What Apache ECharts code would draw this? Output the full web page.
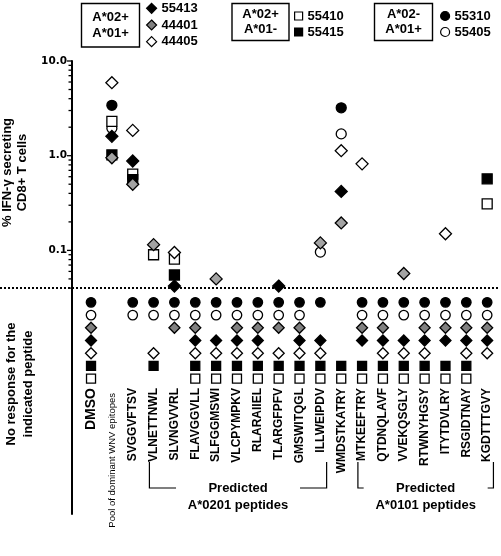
<!DOCTYPE html>
<html><head><meta charset="utf-8">
<script src="https://cdn.jsdelivr.net/npm/echarts@6/dist/echarts.min.js"></script>
<style>html,body{margin:0;padding:0;background:#fff}#c{width:501px;height:556px}</style>
</head><body><div id="c"></div>
<script>
// ---------------- DATA ----------------
const categories = ['DMSO', 'Pool of dominant WNV epitopes', 'SVGGVFTSV', 'VLNETTNWL', 'SLVNGVVRL',
  'FLAVGGVLL', 'SLFGGMSWI', 'VLCPYMPKV', 'RLARAIIEL', 'TLARGFPFV', 'GMSWITQGL', 'ILLWEIPDV',
  'WMDSTKATRY', 'MTKEEFTRY', 'QTDNQLAVF', 'VVEKQSGLY', 'RTWNYHGSY', 'ITYTDVLRY', 'RSGIDTNAY', 'KGDTTTGVY'];
const donors = ['55310', '55405', '44401', '55413', '44405', '55415', '55410'];
const tickValues = [0.1, 1, 10];
const minorTickValues = [0.04, 0.05, 0.06, 0.07, 0.08, 0.09, 0.2, 0.3, 0.4, 0.5, 0.6, 0.7, 0.8, 0.9, 2, 3, 4, 5, 6, 7, 8, 9];
const threshold = 0.04;

// % IFN-gamma secreting CD8+ T cells (null = no value plotted above the threshold)
const resp55413 = [null, 1.6, 0.88, null, 0.042, null, null, null, null, 0.042, null, null, 0.42, null, null, null, null, null, null, null];
const resp44401 = [null, 0.95, 0.50, 0.115, null, null, 0.05, null, null, null, null, 0.12, 0.195, null, null, 0.057, null, null, null, null];
const resp44405 = [null, 5.9, 1.85, null, 0.095, null, null, null, null, null, null, null, 1.13, 0.82, null, null, null, 0.15, null, null];
const resp55410 = [null, 2.3, 0.64, 0.09, 0.081, null, null, null, null, null, null, null, null, null, null, null, null, null, null, 0.31];
const resp55415 = [null, 1.02, 0.56, null, 0.055, null, null, null, null, null, null, null, null, null, null, null, null, null, null, 0.57];
const resp55310 = [null, 3.4, null, null, null, null, null, null, null, null, null, null, 3.2, null, null, null, null, null, null, null];
const resp55405 = [null, 1.95, null, null, null, null, null, null, null, null, null, 0.096, 1.7, null, null, null, null, null, null, null];

// peptides with no response, per donor
const none55310 = ['DMSO', 'SVGGVFTSV', 'VLNETTNWL', 'SLVNGVVRL', 'FLAVGGVLL', 'SLFGGMSWI', 'VLCPYMPKV', 'RLARAIIEL', 'TLARGFPFV', 'GMSWITQGL', 'ILLWEIPDV', 'MTKEEFTRY', 'QTDNQLAVF', 'VVEKQSGLY', 'RTWNYHGSY', 'ITYTDVLRY', 'RSGIDTNAY', 'KGDTTTGVY'];
const none55405 = ['DMSO', 'SVGGVFTSV', 'VLNETTNWL', 'SLVNGVVRL', 'FLAVGGVLL', 'SLFGGMSWI', 'VLCPYMPKV', 'RLARAIIEL', 'TLARGFPFV', 'GMSWITQGL', 'MTKEEFTRY', 'QTDNQLAVF', 'VVEKQSGLY', 'RTWNYHGSY', 'ITYTDVLRY', 'RSGIDTNAY', 'KGDTTTGVY'];
const none44401 = ['DMSO', 'SLVNGVVRL', 'FLAVGGVLL', 'VLCPYMPKV', 'RLARAIIEL', 'TLARGFPFV', 'GMSWITQGL', 'MTKEEFTRY', 'QTDNQLAVF', 'RTWNYHGSY', 'ITYTDVLRY', 'RSGIDTNAY', 'KGDTTTGVY'];
const none55413 = ['DMSO', 'FLAVGGVLL', 'SLFGGMSWI', 'VLCPYMPKV', 'RLARAIIEL', 'GMSWITQGL', 'ILLWEIPDV', 'MTKEEFTRY', 'QTDNQLAVF', 'VVEKQSGLY', 'RTWNYHGSY', 'ITYTDVLRY', 'RSGIDTNAY', 'KGDTTTGVY'];
const none44405 = ['DMSO', 'VLNETTNWL', 'FLAVGGVLL', 'SLFGGMSWI', 'VLCPYMPKV', 'RLARAIIEL', 'TLARGFPFV', 'GMSWITQGL', 'ILLWEIPDV', 'QTDNQLAVF', 'VVEKQSGLY', 'RTWNYHGSY', 'RSGIDTNAY', 'KGDTTTGVY'];
const none55415 = ['DMSO', 'VLNETTNWL', 'FLAVGGVLL', 'SLFGGMSWI', 'VLCPYMPKV', 'RLARAIIEL', 'TLARGFPFV', 'GMSWITQGL', 'ILLWEIPDV', 'WMDSTKATRY', 'MTKEEFTRY', 'QTDNQLAVF', 'VVEKQSGLY', 'RTWNYHGSY', 'ITYTDVLRY', 'RSGIDTNAY'];
const none55410 = ['DMSO', 'FLAVGGVLL', 'SLFGGMSWI', 'VLCPYMPKV', 'RLARAIIEL', 'TLARGFPFV', 'GMSWITQGL', 'ILLWEIPDV', 'WMDSTKATRY', 'MTKEEFTRY', 'QTDNQLAVF', 'VVEKQSGLY', 'RTWNYHGSY', 'ITYTDVLRY', 'RSGIDTNAY'];

const responses = {'55413': resp55413, '44401': resp44401, '44405': resp44405, '55410': resp55410, '55415': resp55415, '55310': resp55310, '55405': resp55405};
const noResponse = {'55413': none55413, '44401': none44401, '44405': none44405, '55410': none55410, '55415': none55415, '55310': none55310, '55405': none55405};

// ---------------- STYLE ----------------
const FONT = '"Liberation Sans", Arial, Helvetica, sans-serif';
const GL = 80.6, GR = 3.4, AXIS_OFF = 8.6;
const sty = {
  '55413': {symbol: 'diamond', size: 12, low: 11, color: '#000', lowColor: '#000'},
  '44401': {symbol: 'diamond', size: 12, low: 11, color: '#a3a3a3', lowColor: '#808080'},
  '44405': {symbol: 'diamond', size: 12, low: 11, color: '#fff', lowColor: '#fff'},
  '55410': {symbol: 'rect', size: 10, low: 9, color: '#fff', lowColor: '#fff'},
  '55415': {symbol: 'rect', size: 10, low: 9, color: '#000', lowColor: '#000'},
  '55310': {symbol: 'circle', size: 10, low: 9.5, color: '#000', lowColor: '#000'},
  '55405': {symbol: 'circle', size: 10, low: 9.5, color: '#fff', lowColor: '#fff'}
};
const drawOrder = ['55310', '55405', '55410', '55415', '44401', '44405', '55413'];

const series = [];
drawOrder.forEach(d => {
  const s = sty[d];
  const pts = [];
  responses[d].forEach((v, i) => { if (v != null) pts.push([categories[i], v]); });
  series.push({
    name: d, type: 'scatter', xAxisIndex: 0, yAxisIndex: 0, data: pts,
    symbol: s.symbol, symbolSize: s.size, silent: true,
    itemStyle: {color: s.color, borderColor: '#000', borderWidth: 1.3, opacity: 1}
  });
  series.push({
    name: d, type: 'scatter', xAxisIndex: 1, yAxisIndex: 1,
    data: noResponse[d].map(c => [c, d]),
    symbol: s.symbol, symbolSize: s.low, silent: true,
    itemStyle: {color: s.lowColor, borderColor: '#000', borderWidth: 1.3, opacity: 1}
  });
});
// axis ticks (major + minor) drawn on the log axis
series.push({
  type: 'custom', xAxisIndex: 0, yAxisIndex: 0, silent: true, clip: false,
  data: tickValues.concat(minorTickValues).map(v => [categories[0], v]),
  renderItem: function (params, api) {
    const v = api.value(1);
    const p = api.coord([0, v]);
    const ax = params.coordSys.x - AXIS_OFF;
    const len = tickValues.indexOf(v) >= 0 ? 5 : 3.5;
    return {type: 'line', shape: {x1: ax - len, y1: p[1], x2: ax, y2: p[1]},
      style: {stroke: '#000', lineWidth: 1.3}};
  }
});

const axisLineStyle = {show: true, onZero: false, lineStyle: {color: '#000', width: 2}};

const legendBase = {
  orient: 'vertical', padding: 0, selectedMode: false, itemGap: 2.7,
  textStyle: {fontFamily: FONT, fontWeight: 'bold', fontSize: 13, color: '#000', lineHeight: 14}
};
function legItem(d, iconSize) {
  const s = sty[d];
  return {name: d, icon: s.symbol,
    itemStyle: {color: d === '44401' ? '#808080' : s.color, borderColor: '#000', borderWidth: 1.2}};
}

const option = {
  animation: false,
  backgroundColor: '#fff',
  textStyle: {fontFamily: FONT},
  grid: [
    {left: GL, right: GR, top: 61, height: 235, outerBoundsMode: 'none'},
    {left: GL, right: GR, top: 296, height: 89, outerBoundsMode: 'none'},
    {left: GL, right: GR, top: 385, height: 129, outerBoundsMode: 'none'}
  ],
  xAxis: [
    {gridIndex: 0, type: 'category', data: categories, show: false},
    {gridIndex: 1, type: 'category', data: categories, position: 'bottom',
      axisLine: {show: false}, axisTick: {show: false}, splitLine: {show: false},
      axisLabel: {interval: 0, rotate: 90, margin: 3, color: '#000', fontFamily: FONT, fontWeight: 'bold', fontSize: 12,
        formatter: v => v === 'DMSO' ? '{big|DMSO}' : (v.indexOf('Pool') === 0 ? '{small|' + v + '}' : v),
        rich: {
          big: {fontSize: 14, fontWeight: 'bold', fontFamily: FONT, color: '#000'},
          small: {fontSize: 9.5, fontWeight: 'normal', fontFamily: FONT, color: '#000', padding: [0, 5, 0, 0]}
        }}},
    {gridIndex: 2, type: 'category', data: categories, show: false}
  ],
  yAxis: [
    {gridIndex: 0, type: 'log', logBase: 10, min: 0.033, max: 10, offset: AXIS_OFF,
      axisLine: axisLineStyle, axisTick: {show: false}, splitLine: {show: false}, minorTick: {show: false},
      axisLabel: {margin: 5, color: '#000', fontFamily: 'DejaVu Sans, sans-serif', fontWeight: 'bold', fontSize: 10.5,
        formatter: v => {
          const l = Math.log10(v);
          if (Math.abs(l - Math.round(l)) > 1e-6) return '';
          const r = Math.pow(10, Math.round(l));
          return tickValues.indexOf(r) >= 0 ? r.toFixed(1) : '';
        }},
      name: '% IFN-\u03b3 secreting\nCD8+ T cells', nameLocation: 'middle', nameRotate: 90, nameGap: 39,
      nameTextStyle: {fontFamily: FONT, fontWeight: 'bold', fontSize: 13, color: '#000', lineHeight: 15, padding: [0, 0, 0, 12]}},
    {gridIndex: 1, type: 'category', data: donors, inverse: true, offset: AXIS_OFF,
      axisLine: axisLineStyle, axisTick: {show: false}, axisLabel: {show: false}, splitLine: {show: false}},
    {gridIndex: 2, type: 'value', min: 0, max: 1, offset: AXIS_OFF,
      axisLine: axisLineStyle, axisTick: {show: false}, axisLabel: {show: false}, splitLine: {show: false}}
  ],
  legend: [
    Object.assign({}, legendBase, {left: 146, top: 1.3, itemWidth: 10, itemHeight: 10, itemGap: 2.7,
      data: ['55413', '44401', '44405'].map(d => legItem(d))}),
    Object.assign({}, legendBase, {left: 294, top: 9, itemWidth: 8, itemHeight: 8, itemGap: 2, itemTextGap: 5,
      data: ['55410', '55415'].map(d => legItem(d))}),
    Object.assign({}, legendBase, {left: 440, top: 9, itemWidth: 9, itemHeight: 9, itemGap: 2, itemTextGap: 3,
      data: ['55310', '55405'].map(d => legItem(d))})
  ],
  series: series
};

const chart = echarts.init(document.getElementById('c'));
chart.setOption(option);

// ---------------- ANNOTATIONS ----------------
const W = 501;
const band = (W - GL - GR) / categories.length;
const xPix = name => chart.convertToPixel({xAxisIndex: 1}, categories.indexOf(name));
const yThr = chart.convertToPixel({yAxisIndex: 0}, threshold);
const boldFont = 'bold 13px ' + FONT;

function bracket(firstCat, lastCat, label) {
  const l = xPix(firstCat) - 0.2 * band;
  const r = xPix(lastCat) + 0.3 * band;
  const c = (l + r) / 2;
  const yTop = 462, yBot = 488;
  const ls = {stroke: '#000', lineWidth: 1.2};
  return [
    {type: 'polyline', shape: {points: [[l, yTop], [l, yBot], [c - 62, yBot]]}, style: Object.assign({fill: null}, ls), silent: true},
    {type: 'polyline', shape: {points: [[c + 62, yBot], [r, yBot], [r, yTop]]}, style: Object.assign({fill: null}, ls), silent: true},
    {type: 'text', x: c, y: 496.5, silent: true,
      style: {text: 'Predicted\n' + label, font: boldFont, fill: '#000', align: 'center', verticalAlign: 'middle', lineHeight: 17}}
  ];
}
function box(x, y, w, h, text) {
  return [
    {type: 'rect', shape: {x: x, y: y, width: w, height: h}, style: {fill: '#fff', stroke: '#000', lineWidth: 1.4}, silent: true},
    {type: 'text', x: x + w / 2, y: y + h / 2, silent: true,
      style: {text: text, font: boldFont, fill: '#000', align: 'center', verticalAlign: 'middle', lineHeight: 15.5}}
  ];
}

const graphics = [
  {type: 'line', shape: {x1: 0, y1: yThr, x2: W - 3, y2: yThr}, z: 1,
    style: {stroke: '#000', lineWidth: 2, lineDash: [2, 2]}, silent: true},
  {type: 'text', x: 20, y: 384, rotation: Math.PI / 2, silent: true,
    style: {text: 'No response for the\nindicated peptide', font: boldFont, fill: '#000', align: 'center', verticalAlign: 'middle', lineHeight: 17}}
]
  .concat(bracket('VLNETTNWL', 'ILLWEIPDV', 'A*0201 peptides'))
  .concat(bracket('MTKEEFTRY', 'KGDTTTGVY', 'A*0101 peptides'))
  .concat(box(81.5, 3.5, 58, 43.5, 'A*02+\nA*01+'))
  .concat(box(232, 3.5, 57, 37, 'A*02+\nA*01-'))
  .concat(box(374.5, 3.5, 58, 37, 'A*02-\nA*01+'));

chart.setOption({graphic: graphics});
</script>
</body></html>
